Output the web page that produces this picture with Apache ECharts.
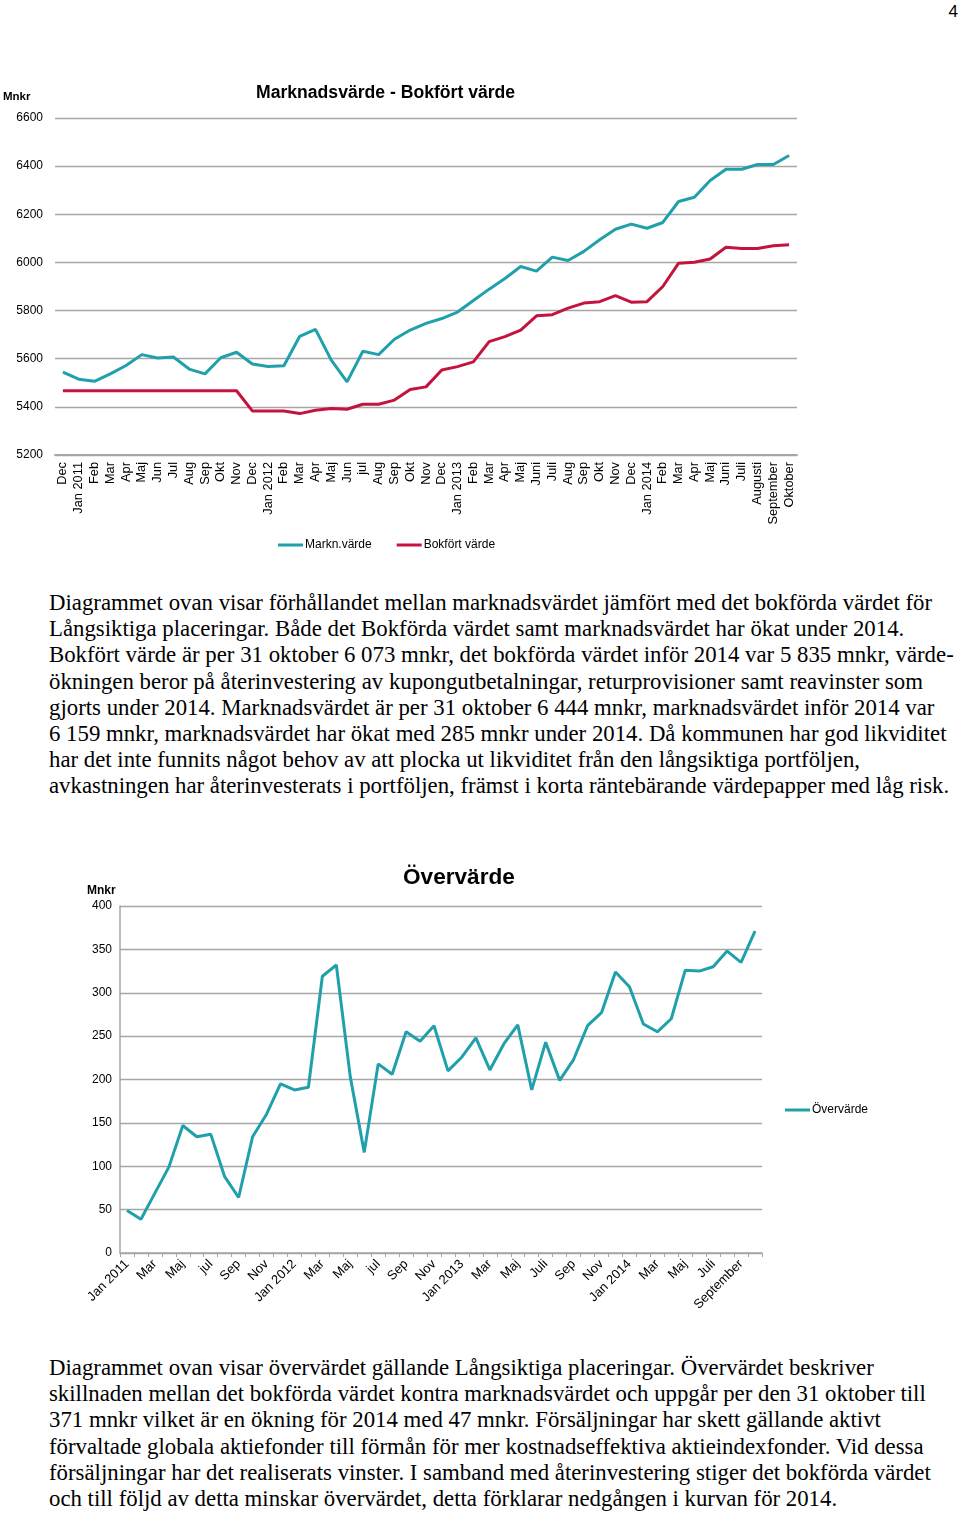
<!DOCTYPE html>
<html>
<head>
<meta charset="utf-8">
<script src="https://cdn.jsdelivr.net/npm/echarts@6/dist/echarts.min.js"></script>
<style>
  html, body { margin: 0; padding: 0; background: #fff; }
  body { width: 960px; height: 1514px; position: relative; overflow: hidden; }
  .chart { position: absolute; left: 0; width: 960px; }
  .para { position: absolute; left: 49px; font-family: "Liberation Serif", "Times New Roman", serif;
          font-size: 22.8px; line-height: 26.2px; color: #000; white-space: nowrap; }
  .pageno { position: absolute; right: 2px; top: 2px; font-family: "Liberation Sans", Arial, sans-serif; font-size: 17px; }
</style>
</head>
<body>
<div class="pageno">4</div>
<div id="c1" class="chart" style="top:0;height:580px;"></div>
<div class="para" style="top:590px;">
Diagrammet ovan visar förhållandet mellan marknadsvärdet jämfört med det bokförda värdet för<br>
Långsiktiga placeringar. Både det Bokförda värdet samt marknadsvärdet har ökat under 2014.<br>
Bokfört värde är per 31 oktober 6 073 mnkr, det bokförda värdet inför 2014 var 5 835 mnkr, värde-<br>
ökningen beror på återinvestering av kupongutbetalningar, returprovisioner samt reavinster som<br>
gjorts under 2014. Marknadsvärdet är per 31 oktober 6 444 mnkr, marknadsvärdet inför 2014 var<br>
6 159 mnkr, marknadsvärdet har ökat med 285 mnkr under 2014. Då kommunen har god likviditet<br>
har det inte funnits något behov av att plocka ut likviditet från den långsiktiga portföljen,<br>
avkastningen har återinvesterats i portföljen, främst i korta räntebärande värdepapper med låg risk.
</div>
<div id="c2" class="chart" style="top:840px;height:500px;"></div>
<div class="para" style="top:1355px;">
Diagrammet ovan visar övervärdet gällande Långsiktiga placeringar. Övervärdet beskriver<br>
skillnaden mellan det bokförda värdet kontra marknadsvärdet och uppgår per den 31 oktober till<br>
371 mnkr vilket är en ökning för 2014 med 47 mnkr. Försäljningar har skett gällande aktivt<br>
förvaltade globala aktiefonder till förmån för mer kostnadseffektiva aktieindexfonder. Vid dessa<br>
försäljningar har det realiserats vinster. I samband med återinvestering stiger det bokförda värdet<br>
och till följd av detta minskar övervärdet, detta förklarar nedgången i kurvan för 2014.
</div>
<script>
// ---- Data: Marknadsvärde - Bokfört värde (Mnkr) ----
const months1 = ["Dec","Jan 2011","Feb","Mar","Apr","Maj","Jun","Jul","Aug","Sep","Okt","Nov",
  "Dec","Jan 2012","Feb","Mar","Apr","Maj","Jun","jul","Aug","Sep","Okt","Nov",
  "Dec","Jan 2013","Feb","Mar","Apr","Maj","Juni","Juli","Aug","Sep","Okt","Nov",
  "Dec","Jan 2014","Feb","Mar","Apr","Maj","Juni","Juli","Augusti","September","Oktober"];
const marknVarde = [5544,5515,5506,5537,5572,5617,5603,5607,5557,5537,5604,5627,
  5578,5568,5571,5693,5722,5594,5504,5631,5617,5681,5719,5747,
  5767,5794,5842,5889,5933,5983,5964,6022,6008,6046,6094,6138,
  6159,6142,6166,6253,6271,6340,6387,6387,6407,6407,6444];
const bokfortVarde = [5467,5467,5467,5467,5467,5467,5467,5467,5467,5467,5467,5467,
  5383,5383,5383,5372,5386,5393,5390,5411,5411,5428,5472,5483,
  5553,5567,5587,5671,5692,5719,5778,5783,5810,5831,5837,5862,
  5835,5837,5900,5997,6001,6014,6063,6058,6058,6069,6073];

// ---- Data: Övervärde (Mnkr) ----
const months2 = ["Jan 2011","Feb","Mar","Apr","Maj","Jun","jul","Aug","Sep","Okt","Nov","Dec",
  "Jan 2012","Feb","Mar","Apr","Maj","Jun","jul","Aug","Sep","Okt","Nov","Dec",
  "Jan 2013","Feb","Mar","Apr","Maj","Juni","Juli","Aug","Sep","Okt","Nov","Dec",
  "Jan 2014","Feb","Mar","Apr","Maj","Juni","Juli","Augusti","September","Oktober"];
const overvarde = [49,39,69,99,147,134,137,88,64,134,160,195,
  188,191,319,332,203,116,218,206,255,244,262,210,
  226,248,211,241,263,188,243,199,223,262,277,324,
  307,264,255,270,326,325,330,348,335,371];

const TEAL = '#1fa0aa';
const RED = '#c4143d';
const GRID = '#a6a6a6';
const SANS = '"Liberation Sans", Arial, sans-serif';
const plain = v => String(v);

const c1 = echarts.init(document.getElementById('c1'), null, {renderer: 'canvas'});
c1.setOption({
  animation: false,
  title: {
    text: 'Marknadsvärde - Bokfört värde', left: 251, top: 79,
    textStyle: {fontFamily: SANS, fontSize: 17.6, fontWeight: 'bold', color: '#000'}
  },
  graphic: [{
    type: 'text', left: 3, top: 91,
    style: {text: 'Mnkr', font: 'bold 11.5px ' + SANS, fill: '#000'}
  }],
  legend: {
    left: 273, top: 534, itemGap: 25, itemWidth: 25, itemHeight: 3, icon: 'rect',
    textStyle: {fontFamily: SANS, fontSize: 12, color: '#000', padding: [0,0,0,-3]},
    data: [{name: 'Markn.värde'}, {name: 'Bokfört värde'}]
  },
  grid: {left: 55, right: 163, top: 118, bottom: 125},
  xAxis: {
    type: 'category', data: months1, boundaryGap: true,
    axisLine: {lineStyle: {color: GRID, width: 2}},
    axisTick: {show: false},
    axisLabel: {rotate: 90, interval: 0, margin: 7, fontFamily: SANS, fontSize: 12.8, color: '#000'}
  },
  yAxis: {
    type: 'value', min: 5200, max: 6600, interval: 200,
    axisLine: {show: false}, axisTick: {show: false},
    axisLabel: {margin: 12, fontFamily: SANS, fontSize: 12, color: '#000', formatter: plain},
    splitLine: {lineStyle: {color: GRID, width: 1.3}}
  },
  series: [
    {name: 'Markn.värde', type: 'line', data: marknVarde, symbol: 'none',
     lineStyle: {color: TEAL, width: 3}, itemStyle: {color: TEAL}},
    {name: 'Bokfört värde', type: 'line', data: bokfortVarde, symbol: 'none',
     lineStyle: {color: RED, width: 3}, itemStyle: {color: RED}}
  ]
});

const c2 = echarts.init(document.getElementById('c2'), null, {renderer: 'canvas'});
c2.setOption({
  animation: false,
  title: {
    text: 'Övervärde', left: 398, top: 21,
    textStyle: {fontFamily: SANS, fontSize: 22.6, fontWeight: 'bold', color: '#000'}
  },
  graphic: [{
    type: 'text', left: 87, top: 45,
    style: {text: 'Mnkr', font: 'bold 12px ' + SANS, fill: '#000'}
  }],
  legend: {
    left: 780, top: 259, itemWidth: 25, itemHeight: 3, icon: 'rect',
    textStyle: {fontFamily: SANS, fontSize: 12, color: '#000', padding: [0,0,0,-3]},
    data: [{name: 'Övervärde'}]
  },
  grid: {left: 120, right: 198, top: 66, bottom: 87},
  xAxis: {
    type: 'category', data: months2, boundaryGap: true,
    axisLine: {lineStyle: {color: GRID, width: 1.5}},
    axisTick: {show: true, interval: 0, length: 4, lineStyle: {color: GRID}},
    axisLabel: {rotate: 45, interval: 1, margin: 9, fontFamily: SANS, fontSize: 13, color: '#000'}
  },
  yAxis: {
    type: 'value', min: 0, max: 400, interval: 50,
    axisLine: {show: true, lineStyle: {color: GRID, width: 1.5}}, axisTick: {show: false},
    axisLabel: {margin: 8, fontFamily: SANS, fontSize: 12, color: '#000', formatter: plain},
    splitLine: {lineStyle: {color: GRID, width: 1.3}}
  },
  series: [
    {name: 'Övervärde', type: 'line', data: overvarde, symbol: 'none',
     lineStyle: {color: TEAL, width: 3}, itemStyle: {color: TEAL}}
  ]
});
</script>
</body>
</html>
